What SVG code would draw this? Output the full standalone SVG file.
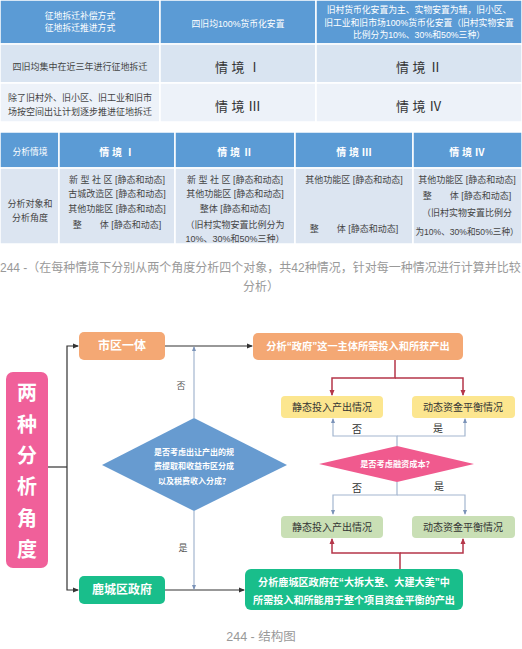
<svg xmlns="http://www.w3.org/2000/svg" width="522" height="649" viewBox="0 0 522 649">
<style>
text{font-family:"Liberation Sans","Noto Sans CJK SC",sans-serif;dominant-baseline:central;text-anchor:middle}
.hd{fill:#5b9bd5;stroke:#fff;stroke-width:1.5}
.r2{fill:#d9e4f1;stroke:#fff;stroke-width:1.5}
.r3{fill:#edf2f9;stroke:#fff;stroke-width:1.5}
.bd{fill:#dce5f1;stroke:#fff;stroke-width:1.5}
.wt{fill:#fff;font-size:8.8px}
.dk{fill:#444;font-size:9px}
.sj{fill:#333;font-size:13px}
.sh{fill:#fff;font-size:10px;font-weight:bold}
.cell{fill:#444;font-size:9px}
.cap{fill:#999;font-size:12px}
.bx{fill:#fff;font-weight:bold}
.lb{fill:#333;font-size:10px}
.k{fill:none;stroke:#333;stroke-width:1.2}
.g{fill:none;stroke:#a3b6cf;stroke-width:1.2}
.r{fill:none;stroke:#b5364a;stroke-width:1.5}
</style>
<defs>
<marker id="ak" markerWidth="6" markerHeight="6" refX="5" refY="3" orient="auto" markerUnits="userSpaceOnUse"><path d="M0,0.5 L6,3 L0,5.5 Z" fill="#333"/></marker>
<marker id="ag" markerWidth="5" markerHeight="5" refX="4" refY="2.5" orient="auto" markerUnits="userSpaceOnUse"><path d="M0,0.5 L5,2.5 L0,4.5 Z" fill="#7b93b8"/></marker>
<marker id="ar" markerWidth="6" markerHeight="6" refX="5" refY="3" orient="auto" markerUnits="userSpaceOnUse"><path d="M0,0.5 L6,3 L0,5.5 Z" fill="#b5364a"/></marker>
</defs>
<rect width="522" height="649" fill="#fff"/>

<g id="table1">
<rect class="hd" x="0" y="0" width="160" height="44"/>
<rect class="hd" x="160" y="0" width="156" height="44"/>
<rect class="hd" x="316" y="0" width="206" height="44"/>
<rect class="r2" x="0" y="44" width="160" height="39"/>
<rect class="r2" x="160" y="44" width="156" height="39"/>
<rect class="r2" x="316" y="44" width="206" height="39"/>
<rect class="r3" x="0" y="83" width="160" height="39"/>
<rect class="r3" x="160" y="83" width="156" height="39"/>
<rect class="r3" x="316" y="83" width="206" height="39"/>
<text class="wt" x="80" y="16">征地拆迁补偿方式</text>
<text class="wt" x="80" y="28">征地拆迁推进方式</text>
<text class="wt" x="238" y="24">四旧均100%货币化安置</text>
<text class="wt" x="419" y="10">旧村货币化安置为主、实物安置为辅，旧小区、</text>
<text class="wt" x="419" y="23">旧工业和旧市场100%货币化安置（旧村实物安置</text>
<text class="wt" x="419" y="35">比例分为10%、30%和50%三种）</text>
<text class="dk" x="80" y="67">四旧均集中在近三年进行征地拆迁</text>
<text class="dk" x="80" y="98">除了旧村外、旧小区、旧工业和旧市</text>
<text class="dk" x="80" y="112">场按空间出让计划逐步推进征地拆迁</text>
<text class="sj" x="238" y="67">情 境 Ⅰ</text>
<text class="sj" x="419" y="67">情 境 Ⅱ</text>
<text class="sj" x="238" y="106">情 境 Ⅲ</text>
<text class="sj" x="419" y="106">情 境 Ⅳ</text>
</g>

<g id="table2">
<rect class="hd" x="0" y="132" width="59" height="36"/>
<rect class="hd" x="59" y="132" width="116" height="36"/>
<rect class="hd" x="175" y="132" width="120" height="36"/>
<rect class="hd" x="295" y="132" width="118" height="36"/>
<rect class="hd" x="413" y="132" width="109" height="36"/>
<rect class="bd" x="0" y="168" width="59" height="76"/>
<rect class="bd" x="59" y="168" width="116" height="76"/>
<rect class="bd" x="175" y="168" width="120" height="76"/>
<rect class="bd" x="295" y="168" width="118" height="76"/>
<rect class="bd" x="413" y="168" width="109" height="76"/>
<text class="wt" x="30" y="152">分析情境</text>
<text class="sh" x="117" y="152">情 境 Ⅰ</text>
<text class="sh" x="235" y="152">情 境 Ⅱ</text>
<text class="sh" x="354" y="152">情 境 Ⅲ</text>
<text class="sh" x="467" y="152">情 境 Ⅳ</text>
<text class="cell" x="30" y="204">分析对象和</text>
<text class="cell" x="30" y="218">分析角度</text>
<text class="cell" x="117" y="180">新 型 社 区 [静态和动态]</text>
<text class="cell" x="117" y="194">古城改造区 [静态和动态]</text>
<text class="cell" x="117" y="209">其他功能区 [静态和动态]</text>
<text class="cell" x="117" y="225" xml:space="preserve">整　　体 [静态和动态]</text>
<text class="cell" x="235" y="180">新 型 社 区 [静态和动态]</text>
<text class="cell" x="235" y="194">其他功能区 [静态和动态]</text>
<text class="cell" x="235" y="209">整体 [静态和动态]</text>
<text class="cell" x="235" y="225">（旧村实物安置比例分为</text>
<text class="cell" x="235" y="239">10%、30%和50%三种）</text>
<text class="cell" x="354" y="180">其他功能区 [静态和动态]</text>
<text class="cell" x="354" y="229" xml:space="preserve">整　　体 [静态和动态]</text>
<text class="cell" x="467" y="180">其他功能区 [静态和动态]</text>
<text class="cell" x="467" y="196" xml:space="preserve">整　　体 [静态和动态]</text>
<text class="cell" x="467" y="213">（旧村实物安置比例分</text>
<text class="cell" x="467" y="232" style="font-size:8.6px">为10%、30%和50%三种）</text>
</g>

<g id="caption1">
<text class="cap" x="0" y="268" style="text-anchor:start">244 -（在每种情境下分别从两个角度分析四个对象，共42种情况，针对每一种情况进行计算并比较</text>
<text class="cap" x="261" y="287">分析）</text>
</g>

<g id="connectors">
<path class="k" d="M48 467 H67"/>
<path class="k" d="M67 467 V346 H78" marker-end="url(#ak)"/>
<path class="k" d="M67 467 V590 H78" marker-end="url(#ak)"/>
<path class="k" d="M165 346 H252" marker-end="url(#ak)"/>
<path class="k" d="M165 590 H244" marker-end="url(#ak)"/>
<path class="g" d="M194 418 V347" marker-end="url(#ag)"/>
<path class="g" d="M194 511 V589" marker-end="url(#ag)"/>
<path class="g" d="M397 446 V436 H333 V419" marker-end="url(#ag)"/>
<path class="g" d="M397 436 H465 V419" marker-end="url(#ag)"/>
<path class="g" d="M397 482 V495 H333 V514" marker-end="url(#ag)"/>
<path class="g" d="M397 495 H465 V514" marker-end="url(#ag)"/>
<path class="r" d="M395 360 V378 H332 V395" marker-end="url(#ar)"/>
<path class="r" d="M395 378 H463 V395" marker-end="url(#ar)"/>
<path class="r" d="M400 569 V553 H332 V539" marker-end="url(#ar)"/>
<path class="r" d="M400 553 H463 V539" marker-end="url(#ar)"/>
<text x="181" y="386" style="fill:#555;font-size:9px">否</text>
<text x="183" y="548" style="fill:#555;font-size:9px">是</text>
<text class="lb" x="357" y="429">否</text>
<text class="lb" x="438" y="428">是</text>
<text class="lb" x="357" y="488">否</text>
<text class="lb" x="439" y="486">是</text>
</g>

<g id="two-angles">
<rect x="6" y="372" width="42" height="196" rx="7" fill="#f0609a"/>
<text class="bx" x="27" y="393" style="font-size:20px">两</text>
<text class="bx" x="27" y="425" style="font-size:20px">种</text>
<text class="bx" x="27" y="456" style="font-size:20px">分</text>
<text class="bx" x="27" y="487" style="font-size:20px">析</text>
<text class="bx" x="27" y="519" style="font-size:20px">角</text>
<text class="bx" x="27" y="550" style="font-size:20px">度</text>
</g>

<g id="shiqu">
<rect x="79" y="332" width="86" height="28" rx="5" fill="#f4a874"/>
<text class="bx" x="122" y="346" style="font-size:12px">市区一体</text>
</g>

<g id="gov-analysis">
<rect x="253" y="333" width="210" height="27" rx="5" fill="#f4a874"/>
<text class="bx" x="358" y="346.5" style="font-size:10.2px">分析“政府”这一主体所需投入和所获产出</text>
</g>

<g id="lucheng">
<rect x="79" y="576" width="86" height="28" rx="5" fill="#19be8b"/>
<text class="bx" x="122" y="590" style="font-size:12px">鹿城区政府</text>
</g>

<g id="lucheng-analysis">
<rect x="245" y="569" width="218" height="41" rx="6" fill="#19be8b"/>
<text class="bx" x="354" y="582" style="font-size:10.1px">分析鹿城区政府在“大拆大整、大建大美”中</text>
<text class="bx" x="354" y="600" style="font-size:10.1px">所需投入和所能用于整个项目资金平衡的产出</text>
</g>

<g id="decision-blue">
<polygon points="194,418 287,465 194,511 102,465" fill="#679bd0"/>
<text class="bx" x="194" y="452" style="font-size:8px">是否考虑出让产出的规</text>
<text class="bx" x="194" y="466" style="font-size:8px">费提取和收益市区分成</text>
<text class="bx" x="194" y="481" style="font-size:8px">以及税费收入分成？</text>
</g>

<g id="static1">
<rect x="281" y="396" width="102" height="22" rx="4" fill="#fce68f"/>
<text x="332" y="407" style="fill:#333;font-size:10px">静态投入产出情况</text>
</g>

<g id="dynamic1">
<rect x="412" y="396" width="103" height="22" rx="4" fill="#fce68f"/>
<text x="463" y="407" style="fill:#333;font-size:10px">动态资金平衡情况</text>
</g>

<g id="decision-pink">
<polygon points="397,446 474,464 397,482 319,464" fill="#f05a8e"/>
<text class="bx" x="397" y="464" style="font-size:8.2px">是否考虑融资成本？</text>
</g>

<g id="static2">
<rect x="281" y="516" width="102" height="22" rx="4" fill="#c9dfb5"/>
<text x="332" y="527" style="fill:#333;font-size:10px">静态投入产出情况</text>
</g>

<g id="dynamic2">
<rect x="412" y="516" width="103" height="22" rx="4" fill="#c9dfb5"/>
<text x="463" y="527" style="fill:#333;font-size:10px">动态资金平衡情况</text>
</g>

<g id="caption2">
<text class="cap" x="261" y="637" style="font-size:12.5px">244 - 结构图</text>
</g>
</svg>
